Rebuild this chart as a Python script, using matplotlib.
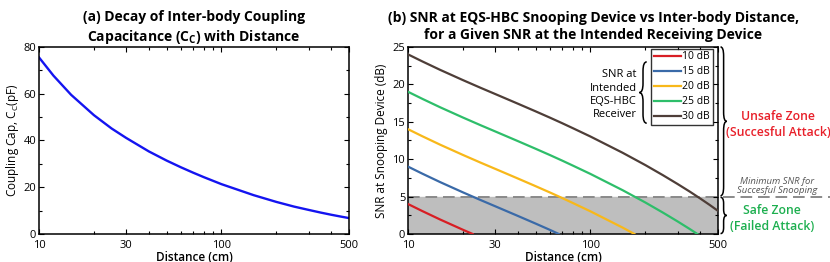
import numpy as np
import matplotlib
matplotlib.use("Agg")
import matplotlib.pyplot as plt
from matplotlib.path import Path
from matplotlib.patches import PathPatch
import matplotlib.transforms as mtransforms

plt.rcParams['font.family'] = ['Open Sans', 'DejaVu Sans']
plt.rcParams['mathtext.default'] = 'regular'

# (a) coupling capacitance vs distance
dist_a = [10, 12, 15, 20, 25, 30, 40, 50, 60, 70, 80, 100,
          150, 200, 250, 300, 350, 400, 450, 500]
cc_pf = [75.5, 67.7, 59.5, 50.8, 45.1, 41.1, 35.3, 31.4, 28.5, 26.2, 24.3, 21.3,
         16.6, 13.7, 11.7, 10.3, 9.14, 8.21, 7.45, 6.79]

# (b) SNR at snooping device, one curve per SNR at intended receiver
snr_labels = ['10 dB', '15 dB', '20 dB', '25 dB', '30 dB']
dist_10 = [10, 12, 15, 20, 22.6]
snr_10 = [4.0, 3.05, 1.93, 0.56, 0.0]
dist_15 = [10, 12, 15, 20, 25, 30, 40, 50, 60, 67]
snr_15 = [9.0, 8.05, 6.93, 5.56, 4.53, 3.71, 2.41, 1.39, 0.54, 0.0]
dist_20 = [10, 12, 15, 20, 25, 30, 40, 50, 60, 70, 80, 100, 150, 174]
snr_20 = [14.0, 13.05, 11.93, 10.56, 9.53, 8.71, 7.41, 6.39, 5.54, 4.80, 4.14,
          3.02, 0.85, 0.0]
dist_25 = [10, 12, 15, 20, 25, 30, 40, 50, 60, 70, 80, 100, 150, 200, 250,
           300, 350, 385]
snr_25 = [19.0, 18.05, 16.93, 15.56, 14.53, 13.71, 12.41, 11.39, 10.54, 9.80,
          9.14, 8.02, 5.85, 4.20, 2.84, 1.68, 0.66, 0.0]
dist_30 = [10, 12, 15, 20, 25, 30, 40, 50, 60, 70, 80, 100, 150, 200, 250,
           300, 350, 400, 450, 500]
snr_30 = [24.0, 23.05, 21.93, 20.56, 19.53, 18.71, 17.41, 16.39, 15.54, 14.80,
          14.14, 13.02, 10.85, 9.20, 7.84, 6.68, 5.66, 4.73, 3.88, 3.08]
min_snr = 5

colors = ['#D81E24', '#3A6AA8', '#F8B81A', '#2EBE6A', '#4E3E38']

fig = plt.figure(figsize=(8.3, 2.62), dpi=100)
ax1 = fig.add_axes([0.047, 0.107, 0.3735, 0.714])
ax2 = fig.add_axes([0.4916, 0.107, 0.3735, 0.714])


def style_axes(ax):
    ax.set_xscale('log')
    ax.set_xlim(10, 500)
    ax.set_xticks([10, 30, 100, 500])
    ax.set_xticklabels(['10', '30', '100', '500'])
    ax.tick_params(which='both', direction='in', top=True, right=True,
                   labelsize=8, pad=2)
    ax.tick_params(axis='x', pad=4)
    ax.tick_params(which='major', length=3.5, width=0.8)
    ax.tick_params(which='minor', length=2, width=0.8)
    for s in ax.spines.values():
        s.set_linewidth(1.1)
    ax.set_xlabel('Distance (cm)', fontsize=8.5, fontweight='semibold', labelpad=0)


def brace(ax, x, y0, y1, w, r, trans, point_right=True):
    # curly brace from y0 to y1 at x, tip sticks out by w
    s = 1 if point_right else -1
    xm = x + s * w / 2
    xt = x + s * w
    ym = (y0 + y1) / 2
    verts = [(x, y1), (xm, y1), (xm, y1 - r),
             (xm, ym + r),
             (xm, ym), (xt, ym),
             (xm, ym), (xm, ym - r),
             (xm, y0 + r),
             (xm, y0), (x, y0)]
    codes = [Path.MOVETO, Path.CURVE3, Path.CURVE3,
             Path.LINETO,
             Path.CURVE3, Path.CURVE3,
             Path.CURVE3, Path.CURVE3,
             Path.LINETO,
             Path.CURVE3, Path.CURVE3]
    p = PathPatch(Path(verts, codes), transform=trans, fill=False,
                  lw=1.1, color='black', clip_on=False)
    ax.add_patch(p)


# ---- panel (a)
style_axes(ax1)
ax1.plot(dist_a, cc_pf, color='#1414F0', lw=1.7)
ax1.set_ylim(0, 80)
ax1.set_yticks([0, 20, 40, 60, 80])
ax1.set_yticks([10, 30, 50, 70], minor=True)
ax1.set_ylabel('Coupling Cap, C$_C$(pF)', fontsize=8.5, labelpad=2)
ax1.set_title('(a) Decay of Inter-body Coupling\nCapacitance (C$_C$) with Distance',
              fontsize=10, fontweight='bold', pad=4, linespacing=1.3)

# ---- panel (b)
style_axes(ax2)
ax2.set_ylim(0, 25)
ax2.set_yticks([0, 5, 10, 15, 20, 25])
ax2.set_yticks(np.arange(2.5, 25, 5), minor=True)
ax2.axhspan(0, min_snr, color='#BEBEBE', zorder=0)
ax2.axhline(min_snr, xmin=0, xmax=1.37, color='#8A8A8A', lw=1.4,
            dashes=(6, 3), clip_on=False, zorder=1)

series = [(dist_10, snr_10), (dist_15, snr_15), (dist_20, snr_20),
          (dist_25, snr_25), (dist_30, snr_30)]
for (d, s), c, lab in zip(series, colors, snr_labels):
    ax2.plot(d, s, color=c, lw=1.6, label=lab, zorder=3)

leg = ax2.legend(loc='upper right', bbox_to_anchor=(0.983, 0.99), fontsize=7.5,
                 frameon=True, fancybox=False, edgecolor='black',
                 handlelength=2.6, handletextpad=0.15, labelspacing=0.38,
                 borderpad=0.25, borderaxespad=0.0)
leg.get_frame().set_linewidth(1.0)

ax2.set_ylabel('SNR at Snooping Device (dB)', fontsize=8.5, labelpad=3)
ax2.text(0.597, 1.025, '(b) SNR at EQS-HBC Snooping Device vs Inter-body Distance,\n'
         'for a Given SNR at the Intended Receiving Device',
         transform=ax2.transAxes, ha='center', va='bottom', fontsize=10,
         fontweight='bold', linespacing=1.3)

blend = mtransforms.blended_transform_factory(ax2.transAxes, ax2.transData)

ax2.text(0.738, 18.6, 'SNR at\nIntended\nEQS-HBC\nReceiver', transform=blend,
         ha='right', va='center', fontsize=8, linespacing=1.3)
brace(ax2, 0.77, 14.8, 23.0, 0.024, 1.2, blend, point_right=False)

brace(ax2, 1.008, min_snr + 0.1, 25, 0.02, 1.2, blend)
brace(ax2, 1.008, 0.05, min_snr - 0.1, 0.02, 0.8, blend)

ax2.text(1.194, 14.6, 'Unsafe Zone\n(Succesful Attack)', transform=blend,
         ha='center', va='center', fontsize=8.8, color='#E8202A',
         fontweight='semibold', linespacing=1.3)
ax2.text(1.19, 6.4, 'Minimum SNR for\nSuccesful Snooping', transform=blend,
         ha='center', va='center', fontsize=6.8, color='#555555',
         style='italic', linespacing=1.1)
ax2.text(1.174, 2.07, 'Safe Zone\n(Failed Attack)', transform=blend,
         ha='center', va='center', fontsize=8.8, color='#1DAF4F',
         fontweight='semibold', linespacing=1.3)

fig.savefig('out.png', dpi=100)
